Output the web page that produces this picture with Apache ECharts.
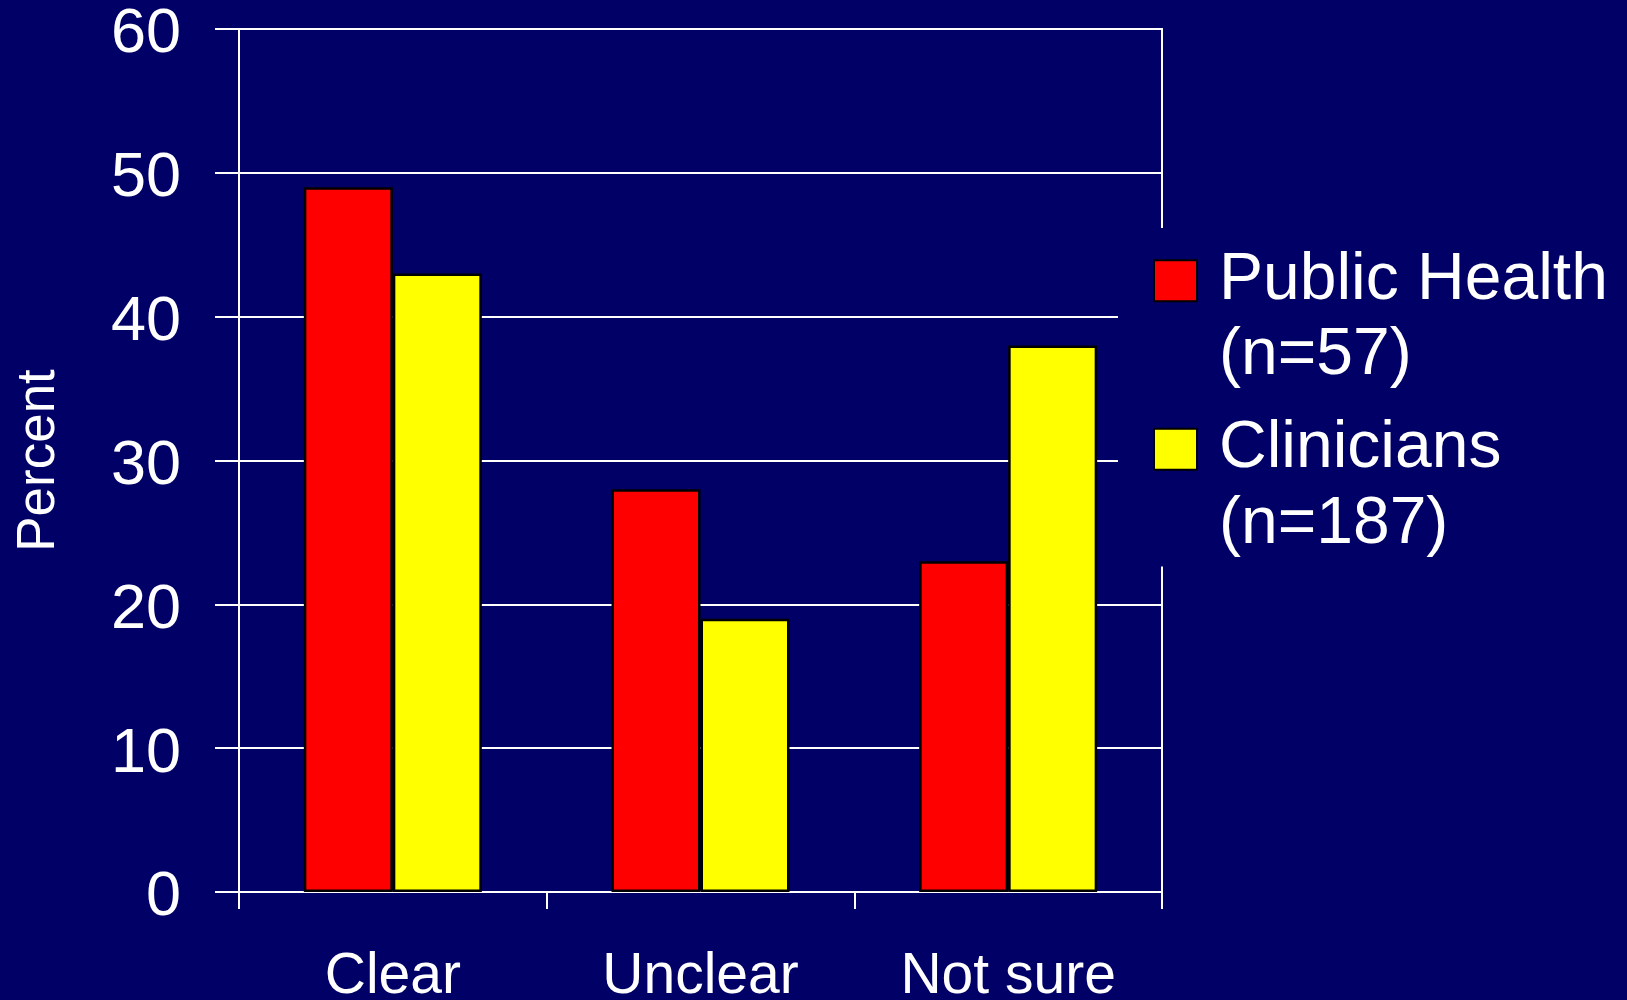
<!DOCTYPE html>
<html>
<head>
<meta charset="utf-8">
<title>Percent by group</title>
<script src="https://cdn.jsdelivr.net/npm/echarts@6/dist/echarts.min.js"></script>
<style>
    html, body { margin: 0; padding: 0; background: #000066; }
    #chart { width: 1627px; height: 1000px; }
</style>
</head>
<body>
<div id="chart"></div>
<script>
// data
var categories  = ['Clear', 'Unclear', 'Not sure'];
var seriesNames = ['Public Health', 'Clinicians'];
var sampleSizes = [57, 187];
var publicHealth = [49, 28, 23];
var clinicians   = [43, 19, 38];
var yTicks = [0, 10, 20, 30, 40, 50, 60];

var FONT = '"Liberation Sans", Arial, Helvetica, sans-serif';

// leading empty line keeps the first text line level with the icon
function legendLabel(name) {
    var i = seriesNames.indexOf(name);
    return '\n' + name + '\n(n=' + sampleSizes[i] + ')';
}

var legendText = {
    color: '#fff',
    fontFamily: FONT,
    fontSize: 66,
    lineHeight: 75.5,
    padding: [0, 0, 0, 17]
};

var myChart = echarts.init(document.getElementById('chart'));
myChart.setOption({
    backgroundColor: '#000066',
    animation: false,
    textStyle: { fontFamily: FONT },
    grid: {
        left: 239, top: 29, right: 465, bottom: 108,
        outerBoundsMode: 'none',
        containLabel: false,
        show: true, borderColor: '#fff', borderWidth: 2,
        backgroundColor: 'transparent'
    },
    legend: [
        {
            // clinicians legend carries the background that hides the lines behind it
            data: [seriesNames[1]],
            orient: 'vertical',
            left: 1118, top: 228,
            padding: [108, 0, 4, 35],
            backgroundColor: '#000066',
            z: 3,
            icon: 'rect',
            itemWidth: 43, itemHeight: 41,
            formatter: legendLabel,
            textStyle: legendText
        },
        {
            data: [seriesNames[0]],
            orient: 'vertical',
            left: 1153, top: 167.5,
            padding: 0,
            z: 4,
            icon: 'rect',
            itemWidth: 43, itemHeight: 41,
            formatter: legendLabel,
            textStyle: legendText
        }
    ],
    xAxis: {
        type: 'category',
        data: categories,
        boundaryGap: true,
        axisLine: { show: true, lineStyle: { color: '#fff', width: 2 } },
        axisTick: { show: true, alignWithLabel: false, length: 17, lineStyle: { color: '#fff', width: 2 } },
        axisLabel: { color: '#fff', fontSize: 57, margin: 57, interval: 0 },
        splitLine: { show: false }
    },
    yAxis: {
        type: 'value',
        min: yTicks[0],
        max: yTicks[yTicks.length - 1],
        interval: yTicks[1] - yTicks[0],
        name: 'Percent',
        nameLocation: 'middle',
        nameRotate: 90,
        nameGap: 173,
        nameTextStyle: { color: '#fff', fontSize: 53 },
        axisLine: { show: true, lineStyle: { color: '#fff', width: 2 } },
        axisTick: { show: true, length: 24, lineStyle: { color: '#fff', width: 2 } },
        // small line box hung from the tick drops the digits a few px below it
        axisLabel: { color: '#fff', fontSize: 63, margin: 58, verticalAlign: 'top', lineHeight: 12 },
        splitLine: { show: true, lineStyle: { color: '#fff', width: 2 } }
    },
    series: [
        {
            name: seriesNames[0],
            type: 'bar',
            data: publicHealth,
            barWidth: 89,
            barGap: '0%',
            itemStyle: { color: '#ff0000', borderColor: '#000', borderWidth: 2.5 }
        },
        {
            name: seriesNames[1],
            type: 'bar',
            data: clinicians,
            barWidth: 89,
            barGap: '0%',
            itemStyle: { color: '#ffff00', borderColor: '#000', borderWidth: 2.5 }
        }
    ]
});
</script>
</body>
</html>
